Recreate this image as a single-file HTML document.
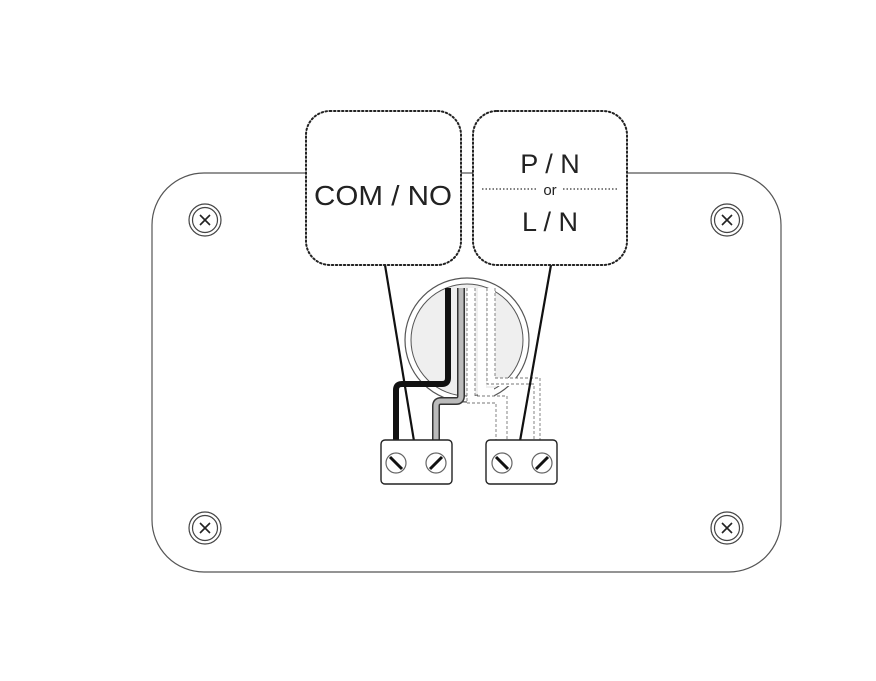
<!DOCTYPE html>
<html><head><style>html,body{margin:0;padding:0;background:#fff}svg{display:block}</style></head><body>
<svg width="876" height="681" viewBox="0 0 876 681" xmlns="http://www.w3.org/2000/svg" font-family="Liberation Sans, sans-serif">
<rect x="152" y="173" width="629" height="399" rx="52" fill="#fff" stroke="#555" stroke-width="1.2"/>
<g fill="#fff" stroke="#444" stroke-width="1.2">
<circle cx="205" cy="220" r="16"/><circle cx="205" cy="220" r="12.5"/>
<circle cx="727" cy="220" r="16"/><circle cx="727" cy="220" r="12.5"/>
<circle cx="205" cy="528" r="16"/><circle cx="205" cy="528" r="12.5"/>
<circle cx="727" cy="528" r="16"/><circle cx="727" cy="528" r="12.5"/>
</g>
<g stroke="#222" stroke-width="1.6">
<path d="M200 215l10 10M210 215l-10 10M722 215l10 10M732 215l-10 10M200 523l10 10M210 523l-10 10M722 523l10 10M732 523l-10 10"/>
</g>
<circle cx="467" cy="340" r="62" fill="#fff" stroke="#555" stroke-width="1.2"/>
<circle cx="467" cy="340" r="56" fill="#efefef" stroke="#555" stroke-width="1"/>
<g fill="none" stroke="#fff" stroke-width="8">
<path d="M471 288V400h31v40"/><path d="M482 288V392h12"/><path d="M491 288V382h47v58"/>
</g>
<g fill="none" stroke="#777" stroke-width="0.9" stroke-dasharray="3 2">
<path d="M467 288V403h29v37M475 288V396h32v44"/>
<path d="M487 288V384h47v56M495 288V378h45v62"/>
</g>
<path d="M461 288V396q0 5-5 5h-15q-5 0-5 5V440" fill="none" stroke="#333" stroke-width="8"/>
<path d="M461 288V396q0 5-5 5h-15q-5 0-5 5V440" fill="none" stroke="#bbb" stroke-width="5"/>
<path d="M448 288V378q0 6-6 6h-40q-6 0-6 6V440" fill="none" stroke="#111" stroke-width="6"/>
<line x1="385" y1="265" x2="414" y2="441" stroke="#111" stroke-width="2.2"/>
<line x1="551" y1="265" x2="520" y2="441" stroke="#111" stroke-width="2.2"/>
<g fill="#fff" stroke="#222" stroke-width="1.4">
<rect x="381" y="440" width="71" height="44" rx="4"/>
<rect x="486" y="440" width="71" height="44" rx="4"/>
</g>
<g fill="#fff" stroke="#666" stroke-width="1.2">
<circle cx="396" cy="463" r="10"/><circle cx="436" cy="463" r="10"/>
<circle cx="502" cy="463" r="10"/><circle cx="542" cy="463" r="10"/>
</g>
<g stroke="#111" stroke-width="3">
<path d="M390 457l12 12M430 469l12-12M496 457l12 12M536 469l12-12"/>
</g>
<g fill="#fff" stroke="#222" stroke-width="2" stroke-dasharray="1.5 2.5" stroke-linecap="round">
<rect x="306" y="111" width="155" height="154" rx="24"/>
<rect x="473" y="111" width="154" height="154" rx="24"/>
</g>
<line x1="482" y1="189" x2="537" y2="189" stroke="#333" stroke-width="1.2" stroke-dasharray="1.5 2"/>
<line x1="563" y1="189" x2="618" y2="189" stroke="#333" stroke-width="1.2" stroke-dasharray="1.5 2"/>
<g fill="#222" text-anchor="middle">
<text x="383" y="205" font-size="28" textLength="138" lengthAdjust="spacingAndGlyphs">COM / NO</text>
<text x="550" y="173" font-size="27">P / N</text>
<text x="550" y="195" font-size="15">or</text>
<text x="550" y="231" font-size="27">L / N</text>
</g>
</svg>
</body></html>
